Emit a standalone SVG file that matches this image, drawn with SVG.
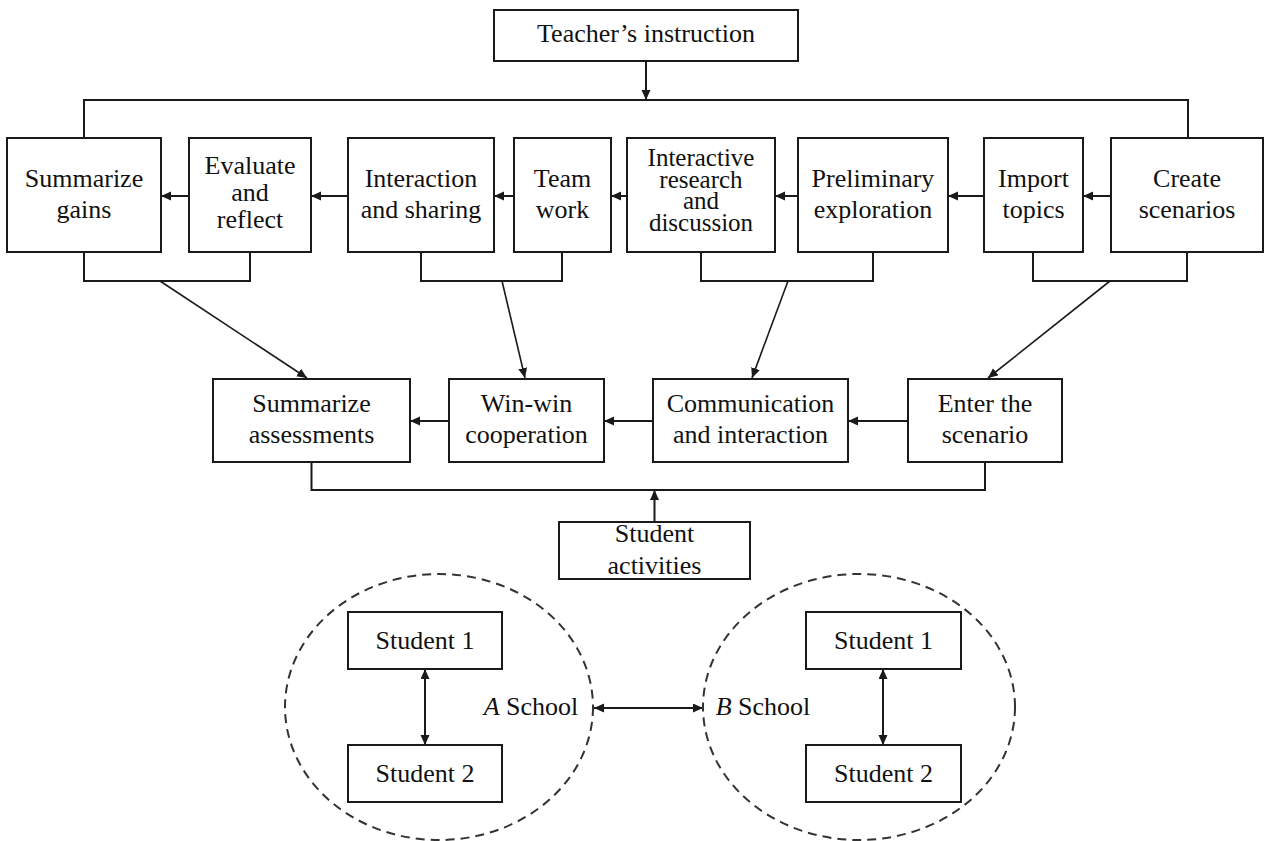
<svg xmlns="http://www.w3.org/2000/svg" width="1264" height="841" viewBox="0 0 1264 841">
  <style>
    .box { fill: #ffffff; stroke: #1a1a1a; stroke-width: 2; }
    .lbl { font-family: "Liberation Serif", "Times New Roman", serif; font-size: 26px; fill: #111111; text-anchor: middle; }
    .tight { font-size: 25px; }
    .ital { font-style: italic; }
    .wire { fill: none; stroke: #1a1a1a; stroke-width: 2; }
    .arr { fill: none; stroke: #1a1a1a; stroke-width: 2; marker-end: url(#head); }
    .arr2 { fill: none; stroke: #1a1a1a; stroke-width: 2; marker-start: url(#head); marker-end: url(#head); }
    .arrd { fill: none; stroke: #1a1a1a; stroke-width: 1.6; marker-end: url(#head); }
    .school { fill: none; stroke: #333333; stroke-width: 2; stroke-dasharray: 9 6; }
  </style>
  <defs>
    <marker id="head" markerUnits="userSpaceOnUse" markerWidth="11" markerHeight="10" refX="10" refY="4.5" orient="auto-start-reverse">
      <path d="M0,0 L10,4.5 L0,9 z" fill="#1a1a1a"/>
    </marker>
  </defs>

  <rect width="1264" height="841" fill="#ffffff"/>

  <!-- connectors -->
  <g id="connectors">
    <!-- teacher into top bus -->
    <line class="arr" x1="646" y1="61" x2="646" y2="100"/>
    <path class="wire" d="M84,138 V100 H1188 V138"/>
    <!-- top row flow, right to left -->
    <line class="arr" x1="1111" y1="196" x2="1083" y2="196"/>
    <line class="arr" x1="984" y1="196" x2="948" y2="196"/>
    <line class="arr" x1="798" y1="196" x2="775" y2="196"/>
    <line class="arr" x1="627" y1="196" x2="611" y2="196"/>
    <line class="arr" x1="514" y1="196" x2="494" y2="196"/>
    <line class="arr" x1="348" y1="196" x2="311" y2="196"/>
    <line class="arr" x1="189" y1="196" x2="161" y2="196"/>
    <!-- pair brackets under the top row -->
    <path class="wire" d="M84,252 V281 H250 V252"/>
    <path class="wire" d="M421,252 V281 H562 V252"/>
    <path class="wire" d="M701,252 V281 H873 V252"/>
    <path class="wire" d="M1033,252 V281 H1187 V252"/>
    <!-- brackets down to the middle row -->
    <line class="arrd" x1="160" y1="281" x2="307" y2="378"/>
    <line class="arrd" x1="502" y1="281" x2="525" y2="378"/>
    <line class="arrd" x1="788" y1="281" x2="752" y2="378"/>
    <line class="arrd" x1="1110" y1="281" x2="988" y2="378"/>
    <!-- middle row flow -->
    <line class="arr" x1="908" y1="421" x2="848" y2="421"/>
    <line class="arr" x1="653" y1="421" x2="604" y2="421"/>
    <line class="arr" x1="449" y1="421" x2="410" y2="421"/>
    <!-- bottom bus and student activities -->
    <path class="wire" d="M311.5,462 V490 H985 V462"/>
    <line class="arr" x1="654.5" y1="522" x2="654.5" y2="490"/>
    <!-- school links -->
    <line class="arr2" x1="425" y1="669" x2="425" y2="745"/>
    <line class="arr2" x1="883" y1="669" x2="883" y2="745"/>
    <line class="arr2" x1="594" y1="708" x2="703" y2="708"/>
  </g>

  <g id="teacher">
    <rect class="box" x="494" y="10" width="304" height="51"/>
    <text class="lbl" x="646" y="42">Teacher’s instruction</text>
  </g>

  <!-- top row -->
  <g id="summarize-gains">
    <rect class="box" x="7" y="138" width="154" height="114"/>
    <text class="lbl" x="84" y="187">Summarize</text>
    <text class="lbl" x="84" y="218">gains</text>
  </g>
  <g id="evaluate-reflect">
    <rect class="box" x="189" y="138" width="122" height="114"/>
    <text class="lbl" x="250" y="174">Evaluate</text>
    <text class="lbl" x="250" y="201">and</text>
    <text class="lbl" x="250" y="228">reflect</text>
  </g>
  <g id="interaction-sharing">
    <rect class="box" x="348" y="138" width="146" height="114"/>
    <text class="lbl" x="421" y="187">Interaction</text>
    <text class="lbl" x="421" y="218">and sharing</text>
  </g>
  <g id="team-work">
    <rect class="box" x="514" y="138" width="97" height="114"/>
    <text class="lbl" x="562.5" y="187">Team</text>
    <text class="lbl" x="562.5" y="218">work</text>
  </g>
  <g id="interactive-research">
    <rect class="box" x="627" y="138" width="148" height="114"/>
    <text class="lbl tight" x="701" y="166">Interactive</text>
    <text class="lbl tight" x="701" y="188">research</text>
    <text class="lbl tight" x="701" y="209">and</text>
    <text class="lbl tight" x="701" y="231">discussion</text>
  </g>
  <g id="preliminary-exploration">
    <rect class="box" x="798" y="138" width="150" height="114"/>
    <text class="lbl" x="873" y="187">Preliminary</text>
    <text class="lbl" x="873" y="218">exploration</text>
  </g>
  <g id="import-topics">
    <rect class="box" x="984" y="138" width="99" height="114"/>
    <text class="lbl" x="1033.5" y="187">Import</text>
    <text class="lbl" x="1033.5" y="218">topics</text>
  </g>
  <g id="create-scenarios">
    <rect class="box" x="1111" y="138" width="152" height="114"/>
    <text class="lbl" x="1187" y="187">Create</text>
    <text class="lbl" x="1187" y="218">scenarios</text>
  </g>

  <!-- middle row -->
  <g id="summarize-assessments">
    <rect class="box" x="213" y="379" width="197" height="83"/>
    <text class="lbl" x="311.5" y="412">Summarize</text>
    <text class="lbl" x="311.5" y="443">assessments</text>
  </g>
  <g id="win-win">
    <rect class="box" x="449" y="379" width="155" height="83"/>
    <text class="lbl" x="526.5" y="412">Win-win</text>
    <text class="lbl" x="526.5" y="443">cooperation</text>
  </g>
  <g id="communication">
    <rect class="box" x="653" y="379" width="195" height="83"/>
    <text class="lbl" x="750.5" y="412">Communication</text>
    <text class="lbl" x="750.5" y="443">and interaction</text>
  </g>
  <g id="enter-scenario">
    <rect class="box" x="908" y="379" width="154" height="83"/>
    <text class="lbl" x="985" y="412">Enter the</text>
    <text class="lbl" x="985" y="443">scenario</text>
  </g>

  <g id="student-activities">
    <rect class="box" x="559" y="522" width="191" height="57"/>
    <text class="lbl" x="654.5" y="542">Student</text>
    <text class="lbl" x="654.5" y="574">activities</text>
  </g>

  <!-- school A -->
  <g id="school-a">
    <ellipse class="school" cx="439" cy="707" rx="154" ry="133"/>
    <text class="lbl" x="531" y="715"><tspan class="ital">A</tspan> School</text>
  </g>
  <g id="a-student-1">
    <rect class="box" x="348" y="612" width="154" height="57"/>
    <text class="lbl" x="425" y="649">Student 1</text>
  </g>
  <g id="a-student-2">
    <rect class="box" x="348" y="745" width="154" height="57"/>
    <text class="lbl" x="425" y="782">Student 2</text>
  </g>

  <!-- school B -->
  <g id="school-b">
    <ellipse class="school" cx="859" cy="707" rx="156" ry="133"/>
    <text class="lbl" x="763" y="715"><tspan class="ital">B</tspan> School</text>
  </g>
  <g id="b-student-1">
    <rect class="box" x="806" y="612" width="155" height="57"/>
    <text class="lbl" x="883.5" y="649">Student 1</text>
  </g>
  <g id="b-student-2">
    <rect class="box" x="806" y="745" width="155" height="57"/>
    <text class="lbl" x="883.5" y="782">Student 2</text>
  </g>
</svg>
